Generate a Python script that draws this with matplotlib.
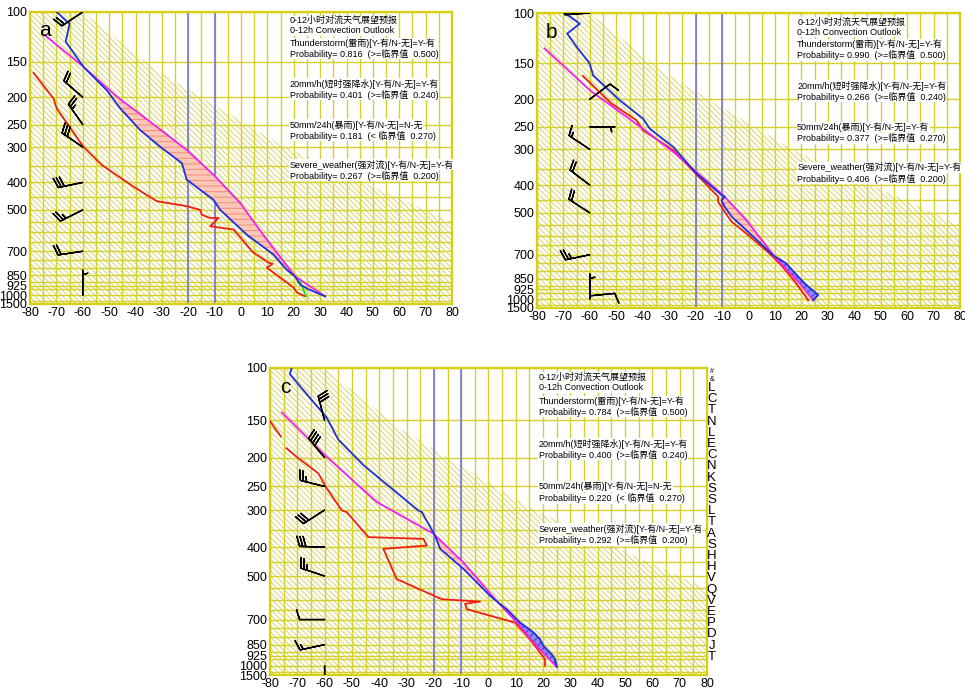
import numpy as np
import matplotlib.pyplot as plt
from matplotlib.patches import Polygon
from matplotlib.ticker import NullFormatter

plt.rcParams['font.family'] = ['Liberation Sans Narrow', 'Liberation Sans', 'Noto Sans CJK SC']
plt.rcParams['hatch.linewidth'] = 0.75
plt.rcParams['axes.unicode_minus'] = False

# axes
x_ticks = np.arange(-80, 81, 10)
x_grid = np.arange(-75, 80, 10)
p_ticks = [100, 150, 200, 250, 300, 400, 500, 700, 850, 925, 1000, 1075]
p_labels = ['100', '150', '200', '250', '300', '400', '500', '700', '850', '925', '1000', '1500']
p_grid = [350, 450, 550, 600, 650, 750, 800, 900, 950, 1050]

categories = ['Thunderstorm(雷雨)', '20mm/h(短时强降水)', '50mm/24h(暴雨)', 'Severe_weather(强对流)']
thresholds = [0.500, 0.240, 0.270, 0.200]
side_letters = list('LCTNLECNKSSLTASHHVQVEPDJT')

# ---- panel a ----
a_t_temp = [-69.9, -65.0, -66.0, -66.5, -59.8, -50.9, -45.8, -38.3, -30.7, -22.4, -20.6, -10.4, -7.9, 2.2, 12.3, 17.4, 20.5, 22.4, 25.6, 31.9]
a_t_pres = [100, 110, 122, 127, 156, 189, 219, 261, 299, 342, 391, 461, 500, 612, 719, 815, 859, 918, 954, 1010]
a_tp_temp = [-74.3, -59.8, -47.1, -34.5, -20.6, -10.4, -0.3, 4.7, 9.8, 20.5, 31.9]
a_tp_pres = [121, 156, 199, 244, 307, 376, 473, 549, 637, 859, 1010]
a_td_temp = [-78.7, -71.1, -69.9, -59.8, -52.8, -40.8, -31.9, -20.6, -15.5, -14.9, -11.7, -8.5, -11.7, -2.8, 4.5, 10.4, 12.0, 9.8, 20.0, 21.2, 24.4]
a_td_pres = [164, 202, 219, 299, 347, 414, 466, 485, 500, 520, 534, 534, 571, 587, 705, 768, 775, 800, 942, 980, 1010]
a_g_temp = [22.4, 24.7]
a_g_pres = [897, 1010]
a_barb_p = [100, 200, 250, 300, 400, 500, 700, 1000]
a_barb_u = [15, 15, 14, 25, 29, 22, 20, 0]
a_barb_v = [10, -13, -20, -17, 6, 11, 3, -5]
a_prob = [0.816, 0.401, 0.181, 0.267]

# ---- panel b ----
b_t_temp = [-69.5, -63.8, -68.6, -65.1, -60.1, -58.8, -48.7, -39.9, -37.3, -28.5, -19.7, -10.2, -9.0, -10.2, -9.0, -6.4, -0.8, 9.3, 14.3, 18.8, 20.7, 22.6, 26.4, 24.5]
b_t_pres = [100, 109, 118, 131, 150, 165, 202, 234, 254, 294, 364, 433, 439, 452, 476, 515, 575, 703, 751, 835, 872, 905, 967, 1010]
b_tp_temp = [-77.1, -60.1, -39.9, -28.5, -9.6, -0.8, 9.9, 19.4, 24.5]
b_tp_pres = [133, 186, 254, 306, 433, 530, 711, 883, 1010]
b_td_temp = [-62.6, -51.9, -42.4, -39.9, -28.5, -11.5, -11.5, -6.4, -0.8, 7.9, 11.7, 15.0, 18.1, 22.6]
b_td_pres = [166, 207, 237, 257, 302, 439, 458, 537, 590, 693, 751, 814, 883, 1010]
b_barb_p = [100, 200, 250, 300, 400, 500, 700, 975, 1000]
b_barb_u = [15, -8, -7, 12, 17, 17, 24, -10, 0]
b_barb_v = [1, -6, 0, -8, -13, -11, 5, -1, -5]
b_prob = [0.990, 0.266, 0.377, 0.406]

# ---- panel c ----
c_t_temp = [-72.1, -72.7, -59.2, -55.0, -45.8, -25.7, -24.4, -19.6, -17.7, -9.2, 0.6, 4.2, 6.7, 11.6, 16.5, 18.9, 20.1, 23.2, 24.4, 25.0]
c_t_pres = [100, 105, 147, 174, 212, 301, 305, 365, 405, 473, 583, 620, 646, 717, 773, 815, 858, 917, 952, 1010]
c_tp_temp = [-75.7, -59.2, -40.9, -20.2, -9.2, 3.0, 10.4, 17.7, 25.0]
c_tp_pres = [141, 199, 282, 360, 450, 606, 717, 859, 1010]
c_td_temp = [-80.0, -76.0, np.nan, -74.0, -70.2, -62.3, -59.2, -53.7, -51.9, -44.0, -23.8, -22.6, -38.5, -33.6, -17.1, -3.1, -8.6, -7.9, 9.7, 15.2, 20.7, 20.7]
c_td_pres = [151, 170, 178, 186, 199, 226, 254, 301, 305, 370, 375, 395, 405, 512, 598, 609, 620, 646, 717, 815, 952, 1000]
c_barb_p = [150, 200, 250, 300, 400, 500, 700, 850, 1000]
c_barb_u = [8, 25, 24, 25, 30, 24, 10, 14, 0]
c_barb_v = [-30, -30, -6, 16, -1, -8, 0, 3, 5]
c_prob = [0.784, 0.400, 0.220, 0.292]

grid_col = '#d4d02c'
hatch_col = '#dad874'
text_rows = [0.030, 0.065, 0.107, 0.143, 0.246, 0.283, 0.386, 0.424, 0.523, 0.561]


def band(xa, pa, xb, pb, lo, hi):
    xa, pa, xb, pb = map(np.asarray, (xa, pa, xb, pb))
    ma = (pa >= lo) & (pa <= hi)
    mb = (pb >= lo) & (pb <= hi)
    return np.concatenate([xa[ma], xb[mb][::-1]]), np.concatenate([pa[ma], pb[mb][::-1]])


def panel(rect, tag, t, tp, td, barbs, probs, pink, blue=None, green=None):
    ax = fig.add_axes(rect)
    ax.set_yscale('log')
    ax.set_xlim(-80, 80)
    ax.set_ylim(1075, 100)
    ax.set_xticks(x_ticks)
    ax.set_xticks(x_grid, minor=True)
    ax.set_yticks(p_ticks, p_labels)
    ax.set_yticks(p_grid, minor=True)
    ax.yaxis.set_minor_formatter(NullFormatter())
    ax.tick_params(which='both', length=0, labelsize=9, pad=2)
    ax.grid(which='both', color=grid_col, lw=1.0, zorder=1)
    ax.set_axisbelow(True)
    for s in ax.spines.values():
        s.set_color('#d6d010')
        s.set_linewidth(1.6)

    # background hatching (lower-left zone)
    bnd = [(0, 0), (0, 1), (0.125, 1), (0.3, 0.8), (0.6, 0.54), (0.8, 0.41), (1, 0.28), (1, 0)]
    ax.add_patch(Polygon(bnd, closed=True, transform=ax.transAxes, facecolor='none',
                         edgecolor=hatch_col, lw=0, hatch='\\' * 6, zorder=0.5))

    ax.axvline(-20, color='#6b6bf0', lw=1.1, zorder=2)
    ax.axvline(-10, color='#6b6bf0', lw=1.1, zorder=2)

    lo, hi = pink
    xs, ps = band(tp[0], tp[1], t[0], t[1], lo, hi)
    ax.fill(xs, ps, facecolor='#f9c8b8', edgecolor='#f4907a', hatch='---', lw=0, zorder=2.5)
    if blue is not None:
        lo, hi = blue
        xs, ps = band(tp[0], tp[1], t[0], t[1], lo, hi)
        ax.fill(xs, ps, facecolor='#8a8af4', edgecolor='#3a3ad8', hatch='////', lw=0, zorder=2.5)

    ax.plot(td[0], td[1], color='#f02010', lw=1.3, zorder=3)
    ax.plot(tp[0], tp[1], color='#f020f0', lw=1.3, zorder=3)
    ax.plot(t[0], t[1], color='#2030d8', lw=1.3, zorder=3.5)
    if green is not None:
        ax.plot(green[0], green[1], color='#20e020', lw=1.3, zorder=3)

    bp, bu, bv = barbs
    ax.barbs(np.full(len(bp), -60.0), bp, bu, bv, length=6, color='black', lw=1.0, zorder=4)

    ax.text(0.035, 0.935, tag, transform=ax.transAxes, fontsize=15, ha='center', va='center', zorder=5)

    lines = ['0-12小时对流天气展望预报', '0-12h Convection Outlook']
    for cat, pr, th in zip(categories, probs, thresholds):
        yes = pr >= th
        lines.append(f"{cat}[Y-有/N-无]={'Y-有' if yes else 'N-无'}")
        lines.append(f"Probability= {pr:.3f}  ({'>=' if yes else '< '}临界值  {th:.3f})")
    for row, s in zip(text_rows, lines):
        ax.text(0.615, 1 - row, s, transform=ax.transAxes, fontsize=6.5, ha='left', va='center',
                bbox=dict(fc='white', ec='none', pad=0.3), zorder=5)
    return ax


fig = plt.figure(figsize=(9.65, 6.89), dpi=100)

panel([0.0311, 0.5588, 0.4373, 0.4238], 'a', (a_t_temp, a_t_pres), (a_tp_temp, a_tp_pres),
      (a_td_temp, a_td_pres), (a_barb_p, a_barb_u, a_barb_v), a_prob, pink=(199, 859),
      green=(a_g_temp, a_g_pres))
panel([0.5565, 0.5530, 0.4383, 0.4281], 'b', (b_t_temp, b_t_pres), (b_tp_temp, b_tp_pres),
      (b_td_temp, b_td_pres), (b_barb_p, b_barb_u, b_barb_v), b_prob, pink=(433, 711),
      blue=(703, 1010))
axc = panel([0.2798, 0.0203, 0.4528, 0.4456], 'c', (c_t_temp, c_t_pres), (c_tp_temp, c_tp_pres),
            (c_td_temp, c_td_pres), (c_barb_p, c_barb_u, c_barb_v), c_prob, pink=(360, 606),
            blue=(583, 1010))

# station letters down the right side of panel c
axc.text(1.011, 0.99, '#', transform=axc.transAxes, fontsize=5, ha='center', va='center')
axc.text(1.011, 0.962, '&', transform=axc.transAxes, fontsize=5, ha='center', va='center')
for ys, ch in zip(np.linspace(0.935, 0.059, len(side_letters)), side_letters):
    axc.text(1.011, ys, ch, transform=axc.transAxes, fontsize=9.5, ha='center', va='center',
             family=['Liberation Sans'])

fig.savefig('out.png', dpi=100)
